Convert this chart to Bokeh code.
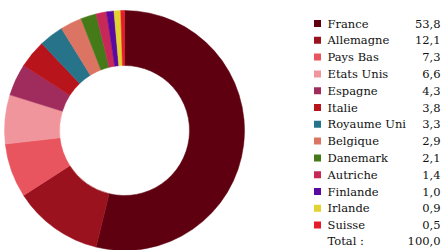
import numpy as np
from bokeh.plotting import figure
from bokeh.models import ColumnDataSource, Range1d
from bokeh.core.properties import value
from bokeh.embed import file_html
from bokeh.resources import INLINE

countries = ["France", "Allemagne", "Pays Bas", "Etats Unis", "Espagne", "Italie",
             "Royaume Uni", "Belgique", "Danemark", "Autriche", "Finlande", "Irlande", "Suisse"]
shares = [53.8, 12.1, 7.3, 6.6, 4.3, 3.8, 3.3, 2.9, 2.1, 1.4, 1.0, 0.9, 0.5]
colors = ["#5e0010", "#9a121e", "#e8555f", "#f0959b", "#a02c5e", "#b8141c",
          "#27738a", "#dc7463", "#457a18", "#c82858", "#5a0aa0", "#e2d232", "#e61c2a"]
total_label = "Total :"
total_value = "100,0"

W, H = 448, 250
# coordinates: x = picture pixel, y = H - picture pixel
p = figure(width=W, height=H, output_backend="svg", toolbar_location=None,
           x_range=Range1d(0, W), y_range=Range1d(0, H),
           min_border=0, outline_line_color=None)
p.axis.visible = False
p.grid.visible = False
p.background_fill_color = "white"
p.border_fill_color = "white"

vals = np.array(shares, dtype=float)
frac = vals / vals.sum()
cum = np.concatenate([[0], np.cumsum(frac)])
start = np.pi / 2 - 2 * np.pi * cum[:-1]
end = np.pi / 2 - 2 * np.pi * cum[1:]

cx, cy = 124, H - 130
src = ColumnDataSource(dict(start=start, end=end, color=colors))
p.annular_wedge(x=cx, y=cy, inner_radius=65, outer_radius=120,
                start_angle="start", end_angle="end", direction="clock",
                fill_color="color", line_color="color", line_width=0.5,
                source=src, inner_radius_units="screen", outer_radius_units="screen")

n = len(countries)
row_y = [H - (23 + 16.8 * i) for i in range(n)]
labels = [f"{v:.1f}".replace(".", ",") for v in shares]
leg = ColumnDataSource(dict(y=row_y, name=countries, val=labels, color=colors))
p.rect(x=317, y="y", width=7, height=7, fill_color="color", line_color=None, source=leg)
font = value("DejaVu Serif")
fs = "11.5px"
p.text(x=327, y="y", text="name", text_font=font, text_font_size=fs,
       text_baseline="middle", text_align="left", text_color="#111111", source=leg)
p.text(x=440, y="y", text="val", text_font=font, text_font_size=fs,
       text_baseline="middle", text_align="right", text_color="#111111", source=leg)

ty = H - 240.5
p.text(x=[327], y=[ty], text=[total_label], text_font=font, text_font_size=fs,
       text_baseline="middle", text_align="left", text_color="#111111")
p.text(x=[440], y=[ty], text=[total_value], text_font=font, text_font_size=fs,
       text_baseline="middle", text_align="right", text_color="#111111")

open("out.html", "w").write(file_html(p, INLINE))
